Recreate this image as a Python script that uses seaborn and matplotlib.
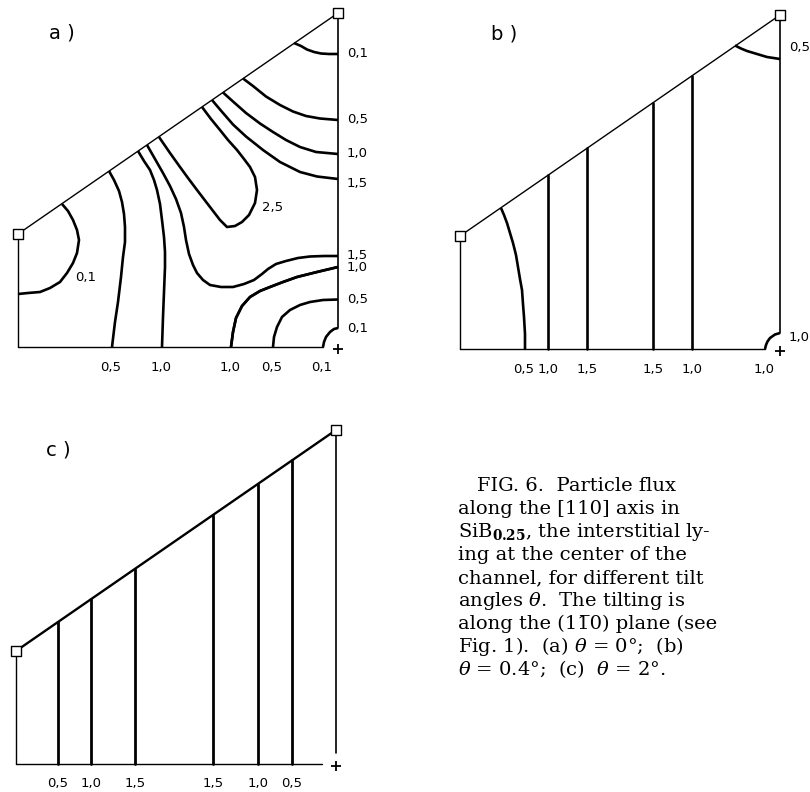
import matplotlib
matplotlib.use("Agg")
import numpy as np
import pandas as pd
import matplotlib.pyplot as plt
import seaborn as sns

# ---------------------------------------------------------------------------
# Panel geometry (panel units: x along the bottom edge, y upward)
PANEL_W = 320
LEFT_H = 113
RIGHT_H = 334

# ---------------------------------------------------------------------------
# (a) theta = 0 deg : traced iso-flux contours
a_01_top = [(276, 304), (283, 301), (289, 297.5), (296, 295), (303, 293.5), (311, 293), (320, 293)]
a_05_right = [(225, 268.5), (235, 261), (248, 250.5), (262, 242), (275, 235.5), (288, 231), (302, 228.5), (320, 227)]
a_10_right = [(205, 254.5), (215, 245.5), (228, 234), (242, 223.5), (255, 215), (268, 207), (282, 200), (298, 195), (320, 193)]
a_15_right = [(194, 247), (202, 237.5), (215, 222.5), (228, 210.5), (245, 197), (262, 185), (282, 175), (299, 170.5), (320, 168)]
a_25_tongue = [(184, 240), (193, 228), (202, 217), (210, 207), (219, 197), (226, 188), (232, 180), (237, 170),
               (239, 157), (237, 144), (231, 132), (224, 125), (217, 121), (209, 120), (202, 127), (192, 140),
               (179, 157), (170, 169), (162, 180), (152, 194), (141, 210)]
a_15_lower = [(129, 202), (137, 188), (145, 174), (152, 161), (158, 148), (163, 134), (166, 120), (168, 107),
              (171, 93), (175, 82), (179, 74), (185, 67), (192, 62), (203, 60), (215, 60), (226, 63), (236, 67),
              (244, 73), (250, 78), (258, 83), (268, 86), (280, 89), (292, 90.5), (306, 91), (320, 91)]
a_10_left = [(120, 196), (126, 186), (132, 177), (136, 167), (139, 157), (142, 143), (144, 127), (146, 110),
             (147, 95), (147, 80), (146, 55), (145, 30), (144, 0)]
a_05_left = [(91, 176), (96, 167), (101, 156), (104, 145), (106, 133), (107, 120), (107, 105), (105, 90),
             (103, 70), (100, 45), (97, 25), (94, 0)]
a_10_bottom = [(213, 0), (215, 15), (218, 29), (224, 41), (232, 50), (242, 56), (252, 60), (265, 65),
               (279, 70), (299, 75), (320, 80)]
a_05_bottom = [(255, 0), (256, 10), (259, 20), (264, 30), (272, 37), (282, 42), (292, 45), (305, 47), (320, 47.5)]
a_01_corner = [(305, 0), (306, 5), (308, 10), (312, 15), (316, 18), (320, 19)]
a_01_left = [(44, 143), (50, 136), (55, 127), (59, 117), (61, 107), (59, 94), (55, 84), (49, 74), (42, 65),
             (32, 59), (22, 55), (10, 54), (0, 53)]

# (b) theta = 0.4 deg
b_05_top = [(275, 303.5), (281, 300.5), (287, 298), (297, 295), (307, 292), (320, 290)]
b_05_left = [(41, 141), (44, 134), (47, 126), (50, 116), (53, 106), (56, 94), (58, 82), (60, 70), (62, 59),
             (63, 45), (64, 32), (65, 15), (65, 0)]
b_10_corner = [(305, 0), (306, 4), (307.5, 7.5), (310, 11), (315, 14.5), (320, 16)]
b_vertical_x = [88, 127, 193, 232]
b_vertical_level = [1.0, 1.5, 1.5, 1.0]

# (c) theta = 2 deg
c_vertical_x = [42, 75, 119, 197, 242, 276]
c_vertical_level = [0.5, 1.0, 1.5, 1.5, 1.0, 0.5]

# contour level, path, label placements
A_CONTOURS = [
    (0.1, a_01_top, ["right"]),
    (0.5, a_05_right, ["right"]),
    (1.0, a_10_right, ["right"]),
    (1.5, a_15_right, [("right", -4)]),
    (2.5, a_25_tongue, [("at", (244, 140), "left")]),
    (1.5, a_15_lower, ["right"]),
    (1.0, a_10_left, ["bottom"]),
    (0.5, a_05_left, ["bottom"]),
    (1.0, a_10_bottom, [("right", -1)]),
    (1.0, a_10_bottom, ["bottom"]),
    (0.5, a_05_bottom, ["right", "bottom"]),
    (0.1, a_01_corner, ["right", "bottom"]),
    (0.1, a_01_left, [("at", (57, 70), "left")]),
]
B_CONTOURS = [
    (0.5, b_05_top, [("right", 12)]),
    (0.5, b_05_left, ["bottom"]),
    (1.0, b_10_corner, [("right", -4), "bottom"]),
]

W_PX, H_PX = 810, 792
LABEL_FONT = ["DejaVu Sans"]
LABEL_SIZE = 9.5


def fmt(v):
    return f"{v:.1f}".replace(".", ",")


def hyp_y(x):
    return LEFT_H + (RIGHT_H - LEFT_H) * x / PANEL_W


def panel_axes(fig, origin, box):
    ox, oy = origin
    x0, y0, x1, y1 = box
    ax = fig.add_axes([x0 / W_PX, 1 - y1 / H_PX, (x1 - x0) / W_PX, (y1 - y0) / H_PX])
    ax.set_xlim(x0 - ox, x1 - ox)
    ax.set_ylim(oy - y1, oy - y0)
    ax.set_axis_off()
    return ax


def draw_frame(ax, bottom_end, right_end, hyp_lw=1.0):
    edges = [
        ([0, bottom_end], [0, 0], 1.0),
        ([0, 0], [0, LEFT_H], 1.0),
        ([0, PANEL_W], [LEFT_H, RIGHT_H], hyp_lw),
        ([PANEL_W, PANEL_W], [RIGHT_H, right_end], 1.2),
    ]
    for xs, ys, lw in edges:
        sns.lineplot(x=xs, y=ys, sort=False, estimator=None, color="black",
                     linewidth=lw, ax=ax, legend=False)
    sns.scatterplot(x=[0, PANEL_W], y=[LEFT_H, RIGHT_H], marker="s", s=62,
                    facecolor="white", edgecolor="black", linewidth=1.0, zorder=5, ax=ax)
    sns.scatterplot(x=[PANEL_W], y=[-2], marker="+", s=55, color="black",
                    linewidth=1.3, zorder=5, ax=ax)


def draw_contours(ax, contours):
    rows = []
    for i, (level, path, _) in enumerate(contours):
        for x, y in path:
            rows.append({"x": x, "y": y, "curve": i, "level": level})
    df = pd.DataFrame(rows)
    sns.lineplot(data=df, x="x", y="y", units="curve", estimator=None, sort=False,
                 color="black", linewidth=1.9, ax=ax, legend=False,
                 solid_joinstyle="round", solid_capstyle="butt")
    for level, path, places in contours:
        arr = np.array(path, dtype=float)
        for p in places:
            if p == "right" or (isinstance(p, tuple) and p[0] == "right"):
                dy = 0 if p == "right" else p[1]
                k = np.argmax(arr[:, 0])
                ax.text(329, arr[k, 1] + dy, fmt(level), ha="left", va="center",
                        fontsize=LABEL_SIZE, family=LABEL_FONT)
            elif p == "bottom":
                k = np.argmin(arr[:, 1])
                ax.text(arr[k, 0] - 1, -20, fmt(level), ha="center", va="center",
                        fontsize=LABEL_SIZE, family=LABEL_FONT)
            else:
                (tx, ty), ha = p[1], p[2]
                ax.text(tx, ty, fmt(level), ha=ha, va="center", fontsize=LABEL_SIZE,
                        family=LABEL_FONT)


def draw_verticals(ax, xs, levels, lw):
    rows = []
    for i, x in enumerate(xs):
        rows.append({"x": x, "y": 0.0, "curve": i})
        rows.append({"x": x, "y": hyp_y(x), "curve": i})
    df = pd.DataFrame(rows)
    sns.lineplot(data=df, x="x", y="y", units="curve", estimator=None, sort=False,
                 color="black", linewidth=lw, ax=ax, legend=False)
    for x, level in zip(xs, levels):
        ax.text(x, -20, fmt(level), ha="center", va="center", fontsize=LABEL_SIZE,
                family=LABEL_FONT)


sns.set_theme(style="white")
plt.rcParams["font.family"] = ["DejaVu Sans"]
plt.rcParams["text.color"] = "black"
plt.rcParams["mathtext.fontset"] = "dejavuserif"

fig = plt.figure(figsize=(W_PX / 100, H_PX / 100), dpi=100)
fig.patch.set_facecolor("white")

# (a)
ax_a = panel_axes(fig, (18, 347), (0, 0, 405, 385))
draw_frame(ax_a, 305, 19)
draw_contours(ax_a, A_CONTOURS)
ax_a.text(31, 314, "a )", fontsize=14, ha="left", va="center", family=LABEL_FONT)

# (b)
ax_b = panel_axes(fig, (460, 349), (405, 0, 810, 385))
draw_frame(ax_b, 305, 16)
draw_contours(ax_b, B_CONTOURS)
draw_verticals(ax_b, b_vertical_x, b_vertical_level, 1.9)
ax_b.text(31, 315, "b )", fontsize=14, ha="left", va="center", family=LABEL_FONT)

# (c)
ax_c = panel_axes(fig, (16, 764), (0, 385, 405, 792))
draw_frame(ax_c, 306, 11, hyp_lw=1.7)
draw_verticals(ax_c, c_vertical_x, c_vertical_level, 2.0)
ax_c.text(30, 314, "c )", fontsize=14, ha="left", va="center", family=LABEL_FONT)

# caption
caption = [
    "FIG. 6.  Particle flux",
    "along the [110] axis in",
    r"SiB$_{\mathbf{0.25}}$, the interstitial ly-",
    "ing at the center of the",
    "channel, for different tilt",
    r"angles $\theta$.  The tilting is",
    "along the (11\u03050) plane (see",
    r"Fig. 1).  (a) $\theta$ = 0°;  (b)",
    r"$\theta$ = 0.4°;  (c)  $\theta$ = 2°.",
]
for i, line in enumerate(caption):
    x = 477 if i == 0 else 458
    fig.text(x / W_PX, 1 - (491 + 23 * i) / H_PX, line, ha="left", va="baseline",
             fontsize=14, family=["DejaVu Serif"], color="black")

fig.savefig("out.png", dpi=100, facecolor="white")
